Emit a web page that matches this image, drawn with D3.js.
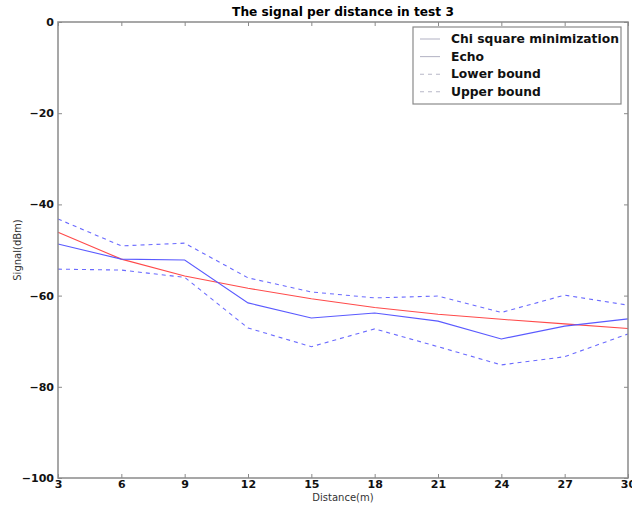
<!DOCTYPE html>
<html>
<head>
<meta charset="utf-8">
<script src="https://cdn.jsdelivr.net/npm/d3@7"></script>
<style>
  html, body { margin: 0; padding: 0; background: #fff; }
  svg { display: block; }
  text { font-family: "DejaVu Sans", sans-serif; }
</style>
</head>
<body>
<svg id="chart" width="632" height="506"></svg>
<script>
// Measurement distances (m)
const distances = [3, 6, 9, 12, 15, 18, 21, 24, 27, 30];
// Fitted curve from chi-square minimization (dBm)
const chiSquare = [-46.1, -52.0, -55.7, -58.4, -60.7, -62.6, -64.1, -65.2, -66.2, -67.2];
// Measured echo signal (dBm)
const echo = [-48.7, -52.0, -52.2, -61.6, -64.9, -63.8, -65.6, -69.5, -66.7, -65.1];
// Confidence bounds (dBm)
const lowerBound = [-54.2, -54.4, -56.0, -67.1, -71.2, -67.3, -71.2, -75.2, -73.4, -68.4];
const upperBound = [-43.2, -49.1, -48.5, -56.1, -59.2, -60.5, -60.1, -63.7, -59.9, -62.1];
// Axis ticks
const xTicks = [3, 6, 9, 12, 15, 18, 21, 24, 27, 30];
const yTicks = [0, -20, -40, -60, -80, -100];

const svg = d3.select("#chart");
const plotLeft = 58, plotRight = 628, plotTop = 22, plotBottom = 478;

const x = d3.scaleLinear().domain([3, 30]).range([plotLeft, plotRight]);
const y = d3.scaleLinear().domain([-100, 0]).range([plotBottom, plotTop]);

// Title
svg.append("text")
  .attr("x", 343).attr("y", 16)
  .attr("text-anchor", "middle")
  .attr("font-size", 12.2).attr("font-weight", "bold")
  .text("The signal per distance in test 3");

// Series lines
const line = d3.line().x((d, i) => x(distances[i])).y(d => y(d));
const series = [
  { name: "Chi square minimization", data: chiSquare, color: "#ff4a4a", dash: null },
  { name: "Echo", data: echo, color: "#5a5aff", dash: null },
  { name: "Lower bound", data: lowerBound, color: "#6a6aff", dash: "4,4" },
  { name: "Upper bound", data: upperBound, color: "#6a6aff", dash: "4,4" }
];
const plot = svg.append("g");
series.forEach(s => {
  plot.append("path")
    .attr("d", line(s.data))
    .attr("fill", "none")
    .attr("stroke", s.color)
    .attr("stroke-width", 1.1)
    .attr("stroke-dasharray", s.dash);
});

// Axes: ticks drawn inward on all four sides
const axisColor = "#8a8a8a";
const xBottom = svg.append("g").attr("transform", `translate(0,${plotBottom})`)
  .call(d3.axisBottom(x).tickValues(xTicks).tickSize(-4).tickPadding(2).tickFormat(d3.format("d")));
const xTop = svg.append("g").attr("transform", `translate(0,${plotTop})`)
  .call(d3.axisTop(x).tickValues(xTicks).tickSize(-4).tickFormat(""));
const yLeft = svg.append("g").attr("transform", `translate(${plotLeft},0)`)
  .call(d3.axisLeft(y).tickValues(yTicks).tickSize(-4).tickPadding(4)
    .tickFormat(d => d3.format("d")(d).replace("-", "\u2212")));
const yRight = svg.append("g").attr("transform", `translate(${plotRight},0)`)
  .call(d3.axisRight(y).tickValues(yTicks).tickSize(-4).tickFormat(""));

[xBottom, xTop, yLeft, yRight].forEach(g => {
  g.select(".domain").remove();
  g.selectAll("line").attr("stroke", axisColor);
  g.selectAll("text").attr("font-size", 11).attr("font-weight", "bold")
    .attr("font-family", "DejaVu Sans, sans-serif").attr("fill", "#111");
});

// Frame
svg.append("rect")
  .attr("x", plotLeft).attr("y", plotTop)
  .attr("width", plotRight - plotLeft).attr("height", plotBottom - plotTop)
  .attr("fill", "none").attr("stroke", axisColor).attr("stroke-width", 1.5);

// Axis labels
svg.append("text")
  .attr("x", (plotLeft + plotRight) / 2).attr("y", 501)
  .attr("text-anchor", "middle").attr("font-size", 10).attr("fill", "#333")
  .text("Distance(m)");
svg.append("text")
  .attr("transform", `translate(21,${(plotTop + plotBottom) / 2}) rotate(-90)`)
  .attr("text-anchor", "middle").attr("font-size", 10).attr("fill", "#333")
  .text("Signal(dBm)");

// Legend
const legend = svg.append("g");
legend.append("rect")
  .attr("x", 413).attr("y", 27).attr("width", 208).attr("height", 77)
  .attr("fill", "#fff").attr("stroke", axisColor).attr("stroke-width", 1.2);
series.forEach((s, i) => {
  const ly = 39 + i * 17.6;
  legend.append("line")
    .attr("x1", 420).attr("x2", 440).attr("y1", ly).attr("y2", ly)
    .attr("stroke", "#b8b8c8").attr("stroke-width", 1.1)
    .attr("stroke-dasharray", s.dash ? "4,4" : null);
  legend.append("text")
    .attr("x", 451).attr("y", ly + 4)
    .attr("font-size", 12.3).attr("font-weight", "bold").attr("fill", "#111")
    .text(s.name);
});
</script>
</body>
</html>
